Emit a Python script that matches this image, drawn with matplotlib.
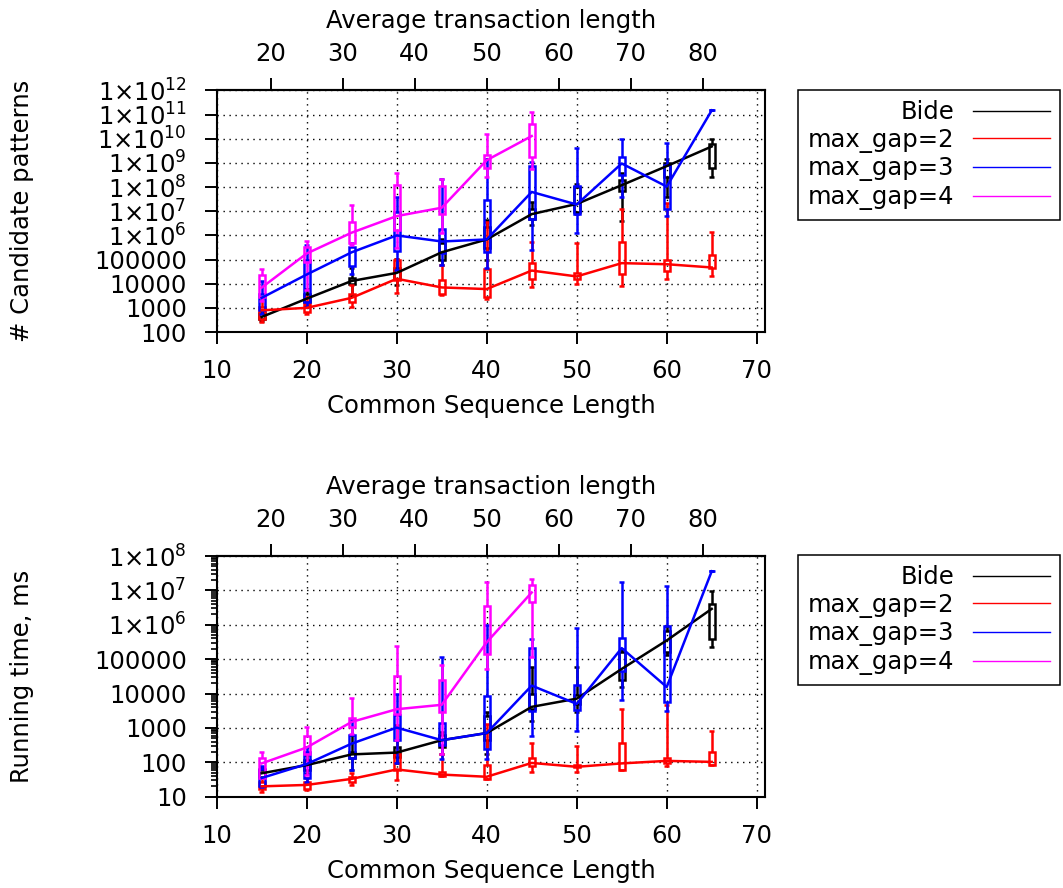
import numpy as np
import matplotlib
matplotlib.use('Agg')
import matplotlib.pyplot as plt
from matplotlib.ticker import LogLocator, NullLocator, NullFormatter, FuncFormatter

plt.rcParams['font.family'] = ['DejaVu Sans']
plt.rcParams['mathtext.fontset'] = 'dejavusans'
plt.rcParams['font.size'] = 17.5

# common sequence length on the x axis
seq_len = [15, 20, 25, 30, 35, 40, 45, 50, 55, 60, 65]
series_names = ['Bide', 'max_gap=2', 'max_gap=3', 'max_gap=4']
series_colors = ['black', '#ff0000', '#0000ff', '#ff00ff']

# rows: (whisker low, box low, median, box high, whisker high)
cand_bide = [(280, 350, 420, 600, 800), (1200, 1700, 2400, 3900, 6000),
             (3000, 9500, 13000, 18000, 43000), (9000, 16000, 28000, 43000, 110000),
             (59000, 94000, 200000, 470000, 700000), (94000, 290000, 680000, 2.3e6, 4.3e6),
             (2.7e6, 4.6e6, 7.6e6, 1.2e7, 2.5e7), (8e6, 9.5e6, 2e7, 1.05e8, 1.4e8),
             (4e6, 6.9e7, 1.2e8, 1.9e8, 3.7e8), (4e7, 2.7e8, 7.4e8, 9.5e8, 1.4e9),
             (2.7e8, 6e8, 4.8e9, 6.2e9, 1e10)]
cand_gap2 = [(260, 355, 790, 1100, 2800), (575, 680, 1000, 1500, 2800),
             (1100, 1750, 2600, 3900, 8700), (4200, 14000, 16000, 100000, 110000),
             (3500, 3900, 7000, 14000, 59000), (2400, 2800, 6000, 40000, 3.6e6),
             (7400, 15000, 35000, 69000, 510000), (10000, 15000, 20000, 29000, 470000),
             (8000, 26000, 71000, 510000, 1.2e7), (16000, 34000, 64000, 94000, 2.1e7),
             (20000, 43000, 47000, 150000, 1.4e6)]
cand_gap3 = [(575, 800, 2600, 3900, 12600), (1100, 1750, 24000, 94000, 400000),
             (26000, 55000, 200000, 340000, 500000), (36000, 230000, 1e6, 9.5e6, 4e7),
             (59000, 180000, 560000, 1.8e6, 2.1e8), (43000, 210000, 680000, 2.8e7, 1.5e9),
             (260000, 4.6e6, 6.3e7, 7.4e8, 1.1e9), (1.3e6, 7.6e6, 1.9e7, 1.1e8, 4e9),
             (4e7, 3.2e8, 9.5e8, 1.8e9, 9.5e9), (6.3e6, 1.2e7, 1.05e8, 8.4e8, 7e9),
             (1.5e11, 1.5e11, 1.5e11, 1.5e11, 1.5e11)]
cand_gap4 = [(2000, 2800, 6900, 22000, 40000), (5400, 80000, 178000, 340000, 570000),
             (400000, 470000, 1.3e6, 3.6e6, 1.9e7), (300000, 1.66e6, 6.3e6, 1.2e8, 4e8),
             (1.2e6, 8e6, 1.4e7, 1.1e8, 2.1e8), (2.5e8, 6e8, 1.3e9, 2.1e9, 1.6e10),
             (5.5e8, 1.7e9, 1.3e10, 4e10, 1.3e11)]

time_bide = [(34, 38, 48, 59, 74), (45, 59, 83, 115, 160), (59, 130, 170, 200, 630),
             (93, 145, 192, 280, 440), (180, 280, 440, 620, 760), (180, 460, 710, 2200, 3000),
             (1550, 3500, 4100, 9400, 60000), (3000, 5000, 7100, 9000, 60000),
             (15000, 24000, 52000, 160000, 200000), (130000, 160000, 350000, 680000, 900000),
             (220000, 380000, 2.9e6, 4e6, 9.5e6)]
time_gap2 = [(14, 17, 20, 27, 34), (16, 17, 22, 27, 34), (22, 27, 33, 38, 48),
             (30, 60, 62, 180, 1200), (40, 40, 44, 53, 180), (32, 32, 38, 83, 1330),
             (53, 77, 96, 130, 360), (53, 71, 74, 83, 300), (59, 59, 93, 370, 3600),
             (77, 96, 110, 138, 4500), (83, 83, 103, 200, 810)]
time_gap3 = [(19, 20, 35, 62, 77), (27, 34, 89, 200, 280), (59, 130, 350, 620, 1660),
             (93, 440, 1020, 2400, 10000), (123, 315, 440, 1400, 112000),
             (123, 250, 710, 8300, 1e6), (570, 3100, 17000, 210000, 380000),
             (800, 3400, 5000, 18000, 800000), (6300, 44000, 210000, 400000, 1.7e7),
             (3200, 5600, 15500, 930000, 1.3e7), (3.6e7, 3.6e7, 3.6e7, 3.6e7, 3.6e7)]
time_gap4 = [(34, 34, 93, 130, 195), (42, 180, 270, 570, 1100), (650, 1070, 1500, 1950, 7400),
             (440, 2600, 3500, 32000, 240000), (180, 2900, 4700, 24000, 66000),
             (52000, 140000, 310000, 3.4e6, 1.7e7), (117000, 4.5e6, 8.7e6, 1.45e7, 2.2e7)]

W, H = 1063, 888
LW = 1.8


def y_fmt(v, pos):
    if v < 1e6:
        return '%d' % int(round(v))
    return r'$\mathregular{1{\times}10^{%d}}$' % int(round(np.log10(v)))


def draw_series(ax, rows, color, name):
    x = np.array(seq_len[:len(rows)], dtype=float)
    wlo, blo, med, bhi, whi = [np.array(c, dtype=float) for c in zip(*rows)]
    ax.vlines(x, wlo, blo, color=color, lw=LW, zorder=3)
    ax.vlines(x, bhi, whi, color=color, lw=LW, zorder=3)
    ax.hlines(wlo, x - 0.27, x + 0.27, color=color, lw=LW, zorder=3)
    ax.hlines(whi, x - 0.27, x + 0.27, color=color, lw=LW, zorder=3)
    ax.bar(x, bhi - blo, bottom=blo, width=0.7, fill=False, edgecolor=color,
           lw=LW, zorder=3)
    ax.plot(x, med, color=color, lw=LW, label=name, zorder=4)


def setup_panel(ax, ylim, ylabel, minor, label_y):
    ax.set_yscale('log')
    ax.set_xlim(10, 70.92)
    ax.set_ylim(*ylim)
    ax.set_xticks(range(10, 71, 10))
    ax.yaxis.set_major_locator(LogLocator(base=10, numticks=20))
    if minor:
        ax.yaxis.set_minor_locator(LogLocator(base=10, subs=np.arange(2, 10), numticks=20))
    else:
        ax.yaxis.set_minor_locator(NullLocator())
    ax.yaxis.set_minor_formatter(NullFormatter())
    ax.yaxis.set_major_formatter(FuncFormatter(y_fmt))
    ax.tick_params(which='major', direction='out', length=8.6, width=1.4)
    ax.tick_params(axis='y', which='major', pad=13)
    ax.tick_params(axis='x', which='major', pad=11)
    ax.tick_params(which='minor', direction='out', length=4.5, width=1.2)
    for s in ax.spines.values():
        s.set_linewidth(1.5)
    ax.grid(True, which='major', color='black', ls=(0, (1, 3.3)), lw=1)
    ax.set_axisbelow(True)
    ax.set_xlabel('Common Sequence Length', labelpad=8)
    fig.text(22 / W, 1 - label_y / H, ylabel, rotation=90, ha='center', va='center')

    sec = ax.secondary_xaxis('top', functions=(lambda c: c * 1.25, lambda a: a / 1.25))
    sec.set_xticks(range(20, 81, 10))
    sec.tick_params(direction='out', length=8.6, width=1.4, pad=9)
    sec.spines['top'].set_linewidth(1.5)
    sec.set_xlabel('Average transaction length', labelpad=10)


def add_legend(ax, top_px):
    leg = ax.legend(loc='upper left', bbox_to_anchor=(798 / W, 1 - top_px / H),
                    bbox_transform=fig.transFigure, markerfirst=False, fancybox=False,
                    edgecolor='black', framealpha=1, borderpad=0.42, handlelength=3.15,
                    handletextpad=0.77, labelspacing=0.15, borderaxespad=0)
    leg.get_frame().set_linewidth(1.1)
    for col in leg._legend_handle_box.get_children():
        col.align = 'right'
    for h in leg.get_lines():
        h.set_linewidth(1.0)


fig = plt.figure(figsize=(W / 100, H / 100), dpi=100)
ax1 = fig.add_axes([216.7 / W, 1 - 332 / H, (765 - 216.7) / W, (332 - 90.5) / H])
ax2 = fig.add_axes([216.7 / W, 1 - 796.7 / H, (765 - 216.7) / W, (796.7 - 556) / H])

for rows, c, n in zip([cand_bide, cand_gap2, cand_gap3, cand_gap4], series_colors, series_names):
    draw_series(ax1, rows, c, n)
for rows, c, n in zip([time_bide, time_gap2, time_gap3, time_gap4], series_colors, series_names):
    draw_series(ax2, rows, c, n)

setup_panel(ax1, (100, 1e12), '# Candidate patterns', False, 211)
setup_panel(ax2, (10, 1e8), 'Running time, ms', True, 676)
add_legend(ax1, 90)
add_legend(ax2, 555)

fig.savefig('out.png', dpi=100)
